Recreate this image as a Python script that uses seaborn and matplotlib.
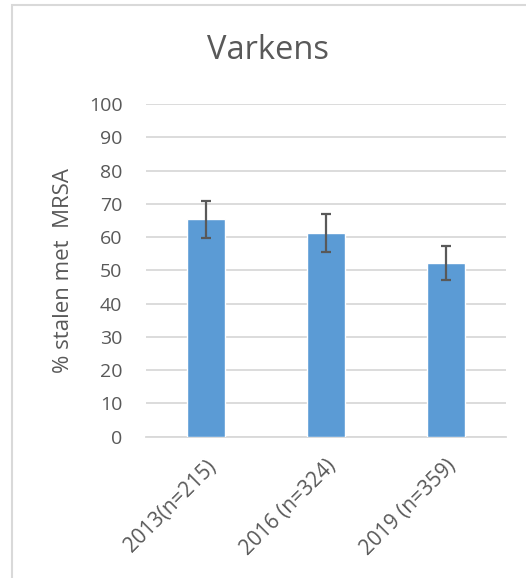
import numpy as np
import pandas as pd
import matplotlib
matplotlib.use("Agg")
import matplotlib.pyplot as plt
import seaborn as sns
from matplotlib.patches import Rectangle

categories = ["2013(n=215)", "2016 (n=324)", "2019 (n=359)"]
values = [65.3, 61.3, 52.2]
errors = [5.5, 5.7, 5.2]
yticks = [0, 10, 20, 30, 40, 50, 60, 70, 80, 90, 100]

df = pd.DataFrame({"jaar": categories, "pct": values})

sns.set_theme(style="white")
plt.rcParams["font.family"] = ["Open Sans", "DejaVu Sans"]

grey_text = "#595959"
grid_col = "#D9D9D9"
bar_col = "#5B9BD5"

fig = plt.figure(figsize=(5.26, 5.78), dpi=100)
ax = fig.add_axes([0.2776, 0.2448, 0.6844, 0.5752])

sns.barplot(data=df, x="jaar", y="pct", color=bar_col, width=0.31,
            saturation=1, ax=ax, zorder=3)
ax.errorbar(np.arange(len(categories)), values, yerr=errors, fmt="none",
            ecolor=grey_text, elinewidth=1.6, capsize=3.7, capthick=1.6, zorder=4)

ax.set_ylim(0, 100)
ax.set_yticks(yticks)
ax.set_xlim(-0.5, len(categories) - 0.5)
ax.yaxis.grid(True, color=grid_col, linewidth=1.3, zorder=0)
ax.set_axisbelow(True)
for side in ["left", "right", "top"]:
    ax.spines[side].set_visible(False)
ax.spines["bottom"].set_color(grid_col)
ax.spines["bottom"].set_linewidth(1.3)

ax.tick_params(axis="both", length=0, labelsize=14, colors=grey_text)
ax.tick_params(axis="y", pad=17)
ax.tick_params(axis="x", pad=14)
ax.set_xticks(range(len(categories)))
ax.set_xticklabels(categories, rotation=45, ha="right", rotation_mode="anchor",
                   fontsize=15)
ax.set_xlabel("")
ax.set_ylabel("% stalen met  MRSA", fontsize=16, color=grey_text, labelpad=11)

fig.text(0.51, 0.913, "Varkens", fontsize=23.5, color=grey_text,
         ha="center", va="center")

fig.patches.append(Rectangle((12 / 526, -0.1), 1.2, 1 - 5 / 578 + 0.1,
                             transform=fig.transFigure, fill=False,
                             edgecolor=grid_col, linewidth=1.5))

fig.savefig("out.png", dpi=100)
